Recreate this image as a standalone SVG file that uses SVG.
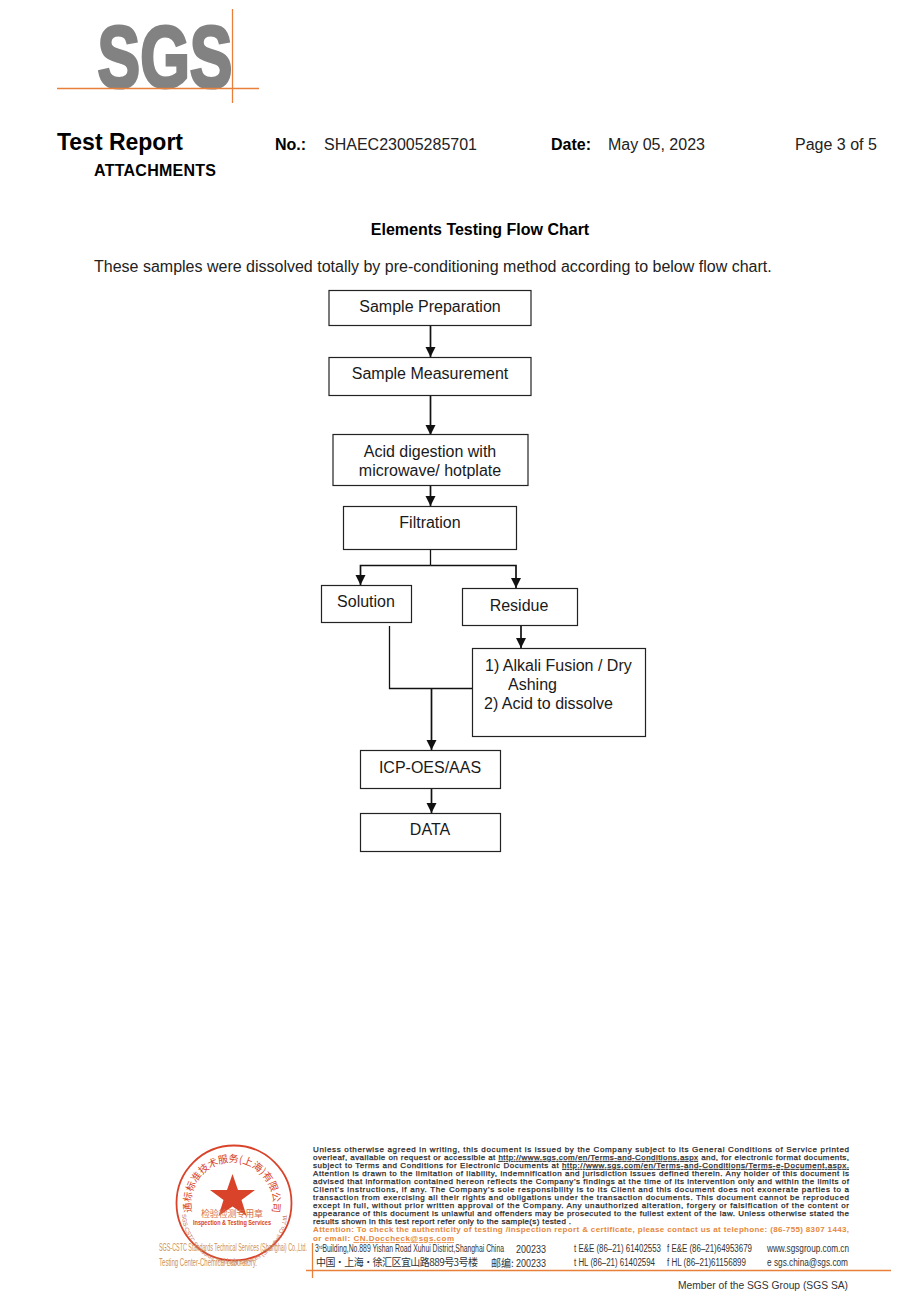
<svg xmlns="http://www.w3.org/2000/svg" width="916" height="1300" viewBox="0 0 916 1300">
<style>
text{font-family:"Liberation Sans",Arial,sans-serif;fill:#000}
.n{font-size:16px;fill:#1a1a1a}
.b{font-weight:bold}
.box{fill:#fff;stroke:#222;stroke-width:1.2}
.c{fill:none;stroke:#111;stroke-width:1.3}
.a{fill:none;stroke:#111;stroke-width:1.7;marker-end:url(#ah)}
.f{font-size:8px;fill:#2a2a2a;stroke:#2a2a2a;stroke-width:.25}
.o{font-size:8px;font-weight:bold;fill:#e6873c}
.ol{stroke:#e8803a;stroke-width:1.3;fill:none}
.ad{font-size:10px;fill:#333}
.st{fill:#d8432a}
.sb{fill:#cc9058;font-size:11px}
</style>
<defs>
<marker id="ah" markerWidth="11" markerHeight="11" refX="10" refY="5" orient="auto" markerUnits="userSpaceOnUse"><path d="M0 0L10 5L0 10Z" fill="#111"/></marker>
<path id="top" d="M192.100 1212.600A41 41 0 1 1 271.900 1212.600"/>
<path id="bot" d="M182 1212A52.500 52.500 0 0 0 287 1212"/>
</defs>
<g id="logo">
<text x="97.500" y="87" style="font-family:'Liberation Sans Narrow','Liberation Sans',sans-serif;font-weight:bold;font-size:87px;fill:#828282;stroke:#828282;stroke-width:3.200" textLength="135" lengthAdjust="spacingAndGlyphs">SGS</text>
<path class="ol" d="M57 88.500H259M232.500 9V103"/>
</g>
<g id="header">
<text x="57" y="150" class="b" style="font-size:23px" textLength="126">Test Report</text>
<text x="94" y="176" class="b" style="font-size:16px" textLength="122">ATTACHMENTS</text>
<text x="275" y="150" class="b" style="font-size:16px">No.:</text>
<text x="324" y="150" style="font-size:16px;fill:#222">SHAEC23005285701</text>
<text x="551" y="150" class="b" style="font-size:16px">Date:</text>
<text x="608" y="150" style="font-size:16px;fill:#222">May 05, 2023</text>
<text x="795" y="150" style="font-size:16px;fill:#222">Page 3 of 5</text>
<text x="480" y="235" text-anchor="middle" class="b" style="font-size:16px">Elements Testing Flow Chart</text>
<text x="94" y="272" style="font-size:16px;fill:#222">These samples were dissolved totally by pre-conditioning method according to below flow chart.</text>
</g>
<g id="connectors">
<path class="a" d="M430.500 325V357"/>
<path class="a" d="M430.500 395V435"/>
<path class="a" d="M430.500 485V506"/>
<path class="c" d="M430.500 550V565.500"/>
<path class="a" d="M430.500 565.500H360.500V585"/>
<path class="a" d="M430.500 565.500H516V588"/>
<path class="a" d="M521 626V648"/>
<path class="c" d="M389.500 626V688.500H473"/>
<path class="a" d="M431.500 688.500V750"/>
<path class="a" d="M431.500 789V813"/>
</g>
<g id="n1"><rect class="box" x="329" y="290.500" width="202" height="35"/><text class="n" x="430" y="312" text-anchor="middle">Sample Preparation</text></g>
<g id="n2"><rect class="box" x="329" y="357.500" width="202" height="38"/><text class="n" x="430" y="379" text-anchor="middle">Sample Measurement</text></g>
<g id="n3"><rect class="box" x="333" y="434.500" width="195" height="51"/><text class="n" x="430" y="457" text-anchor="middle">Acid digestion with</text><text class="n" x="430" y="476" text-anchor="middle">microwave/ hotplate</text></g>
<g id="n4"><rect class="box" x="343.500" y="506.500" width="173" height="43"/><text class="n" x="430" y="528" text-anchor="middle">Filtration</text></g>
<g id="n5"><rect class="box" x="321.500" y="585.500" width="90" height="37"/><text class="n" x="366" y="607" text-anchor="middle">Solution</text></g>
<g id="n6"><rect class="box" x="462.500" y="588.500" width="115" height="37"/><text class="n" x="519" y="611" text-anchor="middle">Residue</text></g>
<g id="n7"><rect class="box" x="472.500" y="648.500" width="173" height="88"/><text class="n" x="485" y="671">1) Alkali Fusion / Dry</text><text class="n" x="508" y="690">Ashing</text><text class="n" x="484" y="709">2) Acid to dissolve</text></g>
<g id="n8"><rect class="box" x="360.500" y="750.500" width="140" height="38"/><text class="n" x="430" y="773" text-anchor="middle">ICP-OES/AAS</text></g>
<g id="n9"><rect class="box" x="360.500" y="813.500" width="140" height="38"/><text class="n" x="430" y="835" text-anchor="middle">DATA</text></g>
<g id="stamp">
<circle cx="234" cy="1203" r="57.500" fill="none" stroke="#d8432a" stroke-width="1.800"/>
<path class="st" d="M232.500 1174L238 1190H255L241.500 1200L246.500 1216L232.500 1206.500L218.500 1216L223.500 1200L210 1190H227Z"/>
<text style="font-family:'Noto Sans CJK SC',sans-serif;font-size:10px;fill:#d8432a"><textPath href="#top" startOffset="50%" text-anchor="middle">通标标准技术服务(上海)有限公司</textPath></text>
<text x="232" y="1217" text-anchor="middle" style="font-family:'Noto Sans CJK SC',sans-serif;font-size:9px;fill:#d8704a" textLength="62">检验检测专用章</text>
<text x="232" y="1225" text-anchor="middle" class="b" style="font-size:7.500px;fill:#d8432a" textLength="78" lengthAdjust="spacingAndGlyphs">Inspection &amp; Testing Services</text>
<text style="font-size:5.800px;fill:#c86a4a"><textPath href="#bot" startOffset="50%" text-anchor="middle">SGS-CSTC Standards Technical Services (Shanghai) Co.,Ltd.</textPath></text>
<text x="159" y="1251" class="sb" textLength="148" lengthAdjust="spacingAndGlyphs">SGS-CSTC Standards Technical Services (Shanghai) Co.,Ltd.</text>
<text x="159" y="1266" class="sb" textLength="98" lengthAdjust="spacingAndGlyphs">Testing Center-Chemical Laboratory.</text>
</g>
<g id="footer">
<text class="f" x="313" y="1152" textLength="536">Unless otherwise agreed in writing, this document is issued by the Company subject to its General Conditions of Service printed</text>
<text class="f" x="313" y="1160" textLength="536">overleaf, available on request or accessible at <tspan text-decoration="underline">http://www.sgs.com/en/Terms-and-Conditions.aspx</tspan> and, for electronic format documents,</text>
<text class="f" x="313" y="1168" textLength="536">subject to Terms and Conditions for Electronic Documents at <tspan text-decoration="underline">http://www.sgs.com/en/Terms-and-Conditions/Terms-e-Document.aspx.</tspan></text>
<text class="f" x="313" y="1176" textLength="536">Attention is drawn to the limitation of liability, indemnification and jurisdiction issues defined therein. Any holder of this document is</text>
<text class="f" x="313" y="1184" textLength="536">advised that information contained hereon reflects the Company's findings at the time of its intervention only and within the limits of</text>
<text class="f" x="313" y="1192" textLength="536">Client's instructions, if any. The Company's sole responsibility is to its Client and this document does not exonerate parties to a</text>
<text class="f" x="313" y="1200" textLength="536">transaction from exercising all their rights and obligations under the transaction documents. This document cannot be reproduced</text>
<text class="f" x="313" y="1208" textLength="536">except in full, without prior written approval of the Company. Any unauthorized alteration, forgery or falsification of the content or</text>
<text class="f" x="313" y="1216" textLength="536">appearance of this document is unlawful and offenders may be prosecuted to the fullest extent of the law. Unless otherwise stated the</text>
<text class="f" x="313" y="1224" textLength="258">results shown in this test report refer only to the sample(s) tested .</text>
<text class="o" x="313" y="1232" textLength="536">Attention: To check the authenticity of testing /inspection report &amp; certificate, please contact us at telephone: (86-755) 8307 1443,</text>
<text class="o" x="313" y="1241" textLength="141">or email: <tspan text-decoration="underline">CN.Doccheck@sgs.com</tspan></text>
<text class="ad" x="315" y="1252" textLength="189" lengthAdjust="spacingAndGlyphs">3<tspan dy="-3" style="font-size:6px">rd</tspan><tspan dy="3">Building,No.889 Yishan Road Xuhui District,Shanghai China</tspan></text>
<text class="ad" x="516" y="1253" textLength="30" lengthAdjust="spacingAndGlyphs">200233</text>
<text class="ad" x="574" y="1252" textLength="87" lengthAdjust="spacingAndGlyphs">t E&amp;E (86–21) 61402553</text>
<text class="ad" x="667" y="1252" textLength="85" lengthAdjust="spacingAndGlyphs">f E&amp;E (86–21)64953679</text>
<text class="ad" x="767" y="1252" textLength="82" lengthAdjust="spacingAndGlyphs">www.sgsgroup.com.cn</text>
<text class="ad" x="316" y="1266" style="font-family:'Noto Sans CJK SC',sans-serif" textLength="162">中国・上海・徐汇区宜山路889号3号楼</text>
<text class="ad" x="491" y="1267" style="font-family:'Noto Sans CJK SC',sans-serif">邮编:</text>
<text class="ad" x="516" y="1267" textLength="30" lengthAdjust="spacingAndGlyphs">200233</text>
<text class="ad" x="574" y="1266" textLength="81" lengthAdjust="spacingAndGlyphs">t HL (86–21) 61402594</text>
<text class="ad" x="667" y="1266" textLength="79" lengthAdjust="spacingAndGlyphs">f HL (86–21)61156899</text>
<text class="ad" x="767" y="1266" textLength="81" lengthAdjust="spacingAndGlyphs">e  sgs.china@sgs.com</text>
<path class="ol" d="M306 1270.500H891M312.500 1243V1278"/>
<text x="678" y="1289" style="font-size:10.500px;fill:#333" textLength="170" lengthAdjust="spacingAndGlyphs">Member of the SGS Group (SGS SA)</text>
</g>
</svg>
